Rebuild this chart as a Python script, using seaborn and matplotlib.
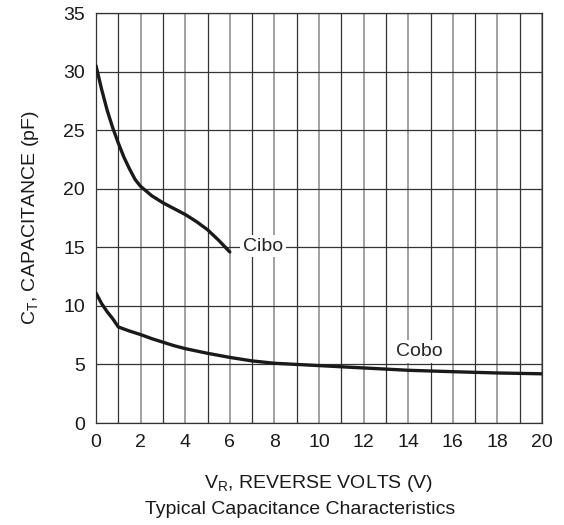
import seaborn as sns
import matplotlib.pyplot as plt
import pandas as pd
from matplotlib.ticker import MultipleLocator

# valores
cibo_v = [0, 0.25, 0.5, 0.75, 1, 1.25, 1.5, 1.75, 2, 2.5, 3, 3.5, 4, 4.5, 5, 5.5, 6]
cibo_c = [30.5, 28.5, 26.7, 25.2, 23.9, 22.7, 21.7, 20.8, 20.2, 19.4, 18.8, 18.3, 17.8, 17.2, 16.5, 15.6, 14.6]
cobo_v = [0, 0.25, 0.5, 0.75, 1, 1.5, 2, 2.5, 3, 3.5, 4, 5, 6, 7, 8, 9, 10, 12, 14, 16, 18, 20]
cobo_c = [11.1, 10.2, 9.5, 8.9, 8.2, 7.85, 7.55, 7.2, 6.9, 6.6, 6.35, 5.95, 5.6, 5.3, 5.1, 5.0,
          4.9, 4.7, 4.5, 4.38, 4.27, 4.2]

df = pd.concat([
    pd.DataFrame({'volts': cibo_v, 'cap': cibo_c, 'serie': 'Cibo'}),
    pd.DataFrame({'volts': cobo_v, 'cap': cobo_c, 'serie': 'Cobo'}),
])

sns.set_style('white')
plt.rcParams['font.family'] = ['Liberation Sans', 'DejaVu Sans']
plt.rcParams['mathtext.fontset'] = 'custom'
plt.rcParams['mathtext.rm'] = 'Liberation Sans'
plt.rcParams['mathtext.it'] = 'Liberation Sans'

fs = 14
fig = plt.figure(figsize=(5.64, 5.25), dpi=100)
ax = fig.add_axes([96/564, 1 - 423/525, 446/564, 410/525])

for s in ['Cibo', 'Cobo']:
    sns.lineplot(data=df[df['serie'] == s], x='volts', y='cap', color='#1a1a1a',
                 lw=2.4, ax=ax, legend=False, zorder=3)

ax.set_xlim(0, 20)
ax.set_ylim(0, 35)
ax.xaxis.set_major_locator(MultipleLocator(2))
ax.xaxis.set_minor_locator(MultipleLocator(1))
ax.yaxis.set_major_locator(MultipleLocator(5))
ax.grid(True, which='minor', axis='x', color='#333333', lw=0.9)
ax.grid(True, which='major', axis='x', color='#9a9a9a', lw=1.3)
ax.grid(True, which='major', axis='y', color='#333333', lw=0.9)
ax.set_axisbelow(True)
for sp in ax.spines.values():
    sp.set_color('#333333')
    sp.set_linewidth(0.9)
ax.tick_params(axis='both', length=0, labelsize=fs, colors='#1a1a1a', pad=8)

ax.set_xlabel(r'V$_\mathrm{R}$, REVERSE VOLTS (V)', fontsize=fs, labelpad=16, color='#1a1a1a')
ax.set_ylabel(r'C$_\mathrm{T}$, CAPACITANCE (pF)', fontsize=fs, labelpad=16, color='#1a1a1a')

box = dict(facecolor='white', edgecolor='none', pad=2)
ax.text(6.6, 15.1, 'Cibo', fontsize=fs, va='center', ha='left', bbox=box, zorder=4)
ax.text(14.5, 6.1, 'Cobo', fontsize=fs, va='center', ha='center', bbox=box, zorder=4)

fig.text(300/564, 1 - 510/525, 'Typical Capacitance Characteristics', fontsize=fs,
         ha='center', va='center', color='#1a1a1a')

plt.savefig('out.png', dpi=100)
